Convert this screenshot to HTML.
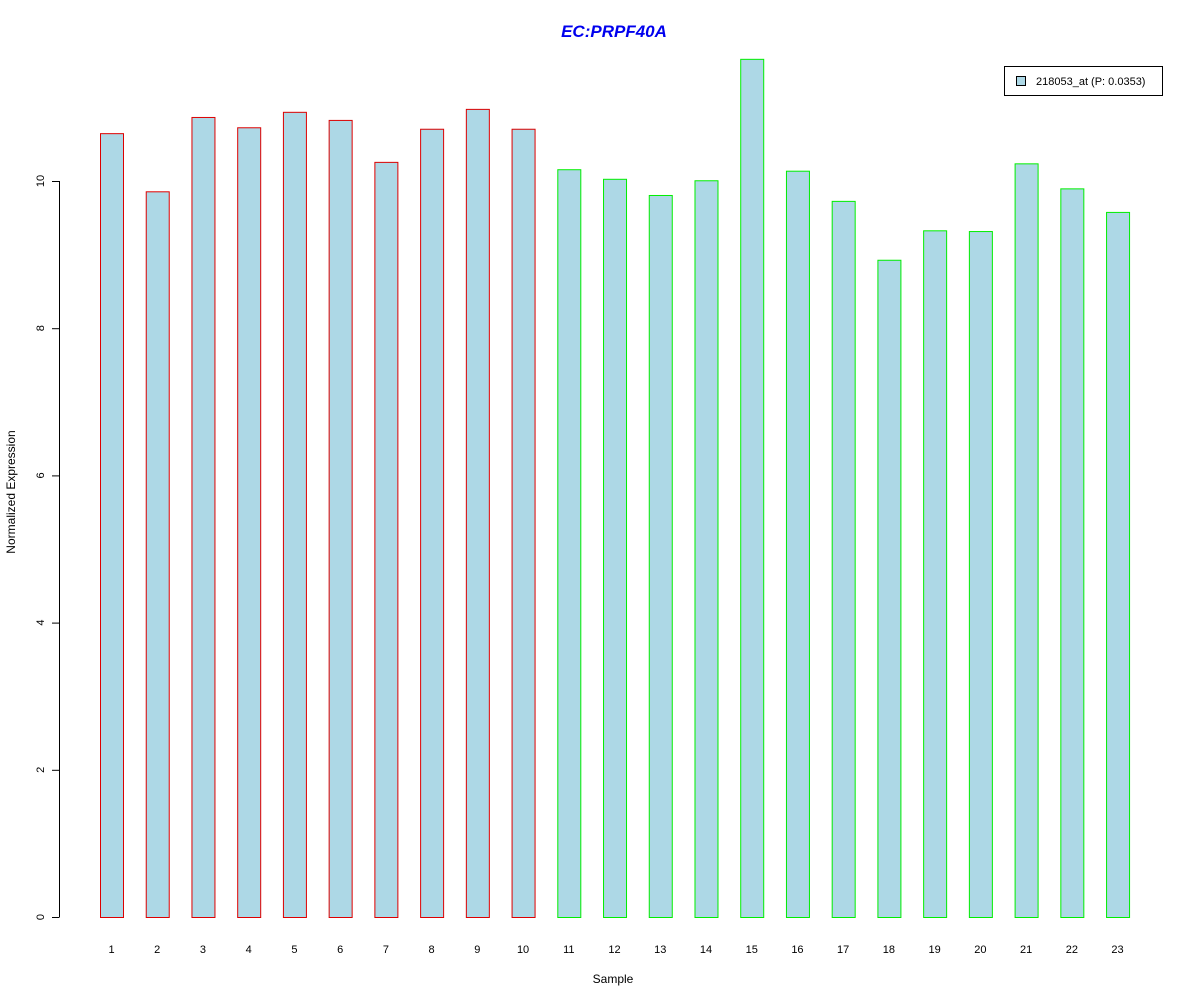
<!DOCTYPE html>
<html><head><meta charset="utf-8"><style>body{margin:0;background:#fff}svg{display:block;font-family:"Liberation Sans",Arial,sans-serif}</style></head>
<body>
<svg id="chart" width="1200" height="1000" xmlns="http://www.w3.org/2000/svg">
<rect width="1200" height="1000" fill="#fff"/>
<text x="614" y="37" text-anchor="middle" font-size="17" font-weight="bold" font-style="italic" fill="#0000ee">EC:PRPF40A</text>
<text x="613" y="983" text-anchor="middle" font-size="12">Sample</text>
<text transform="translate(15,492) rotate(-90)" text-anchor="middle" font-size="12">Normalized Expression</text>
<g id="yaxis"></g>
<g id="bars"></g>
<g id="xlabels"></g>
<g>
<rect x="1004.5" y="66.5" width="158" height="29" fill="#fff" stroke="#000"/>
<rect x="1016.5" y="76.5" width="9" height="9" fill="#add8e6" stroke="#000"/>
<text x="1036" y="85" font-size="11">218053_at (P: 0.0353)</text>
</g>
</svg>
<script>
const categories = ["1","2","3","4","5","6","7","8","9","10","11","12","13","14","15","16","17","18","19","20","21","22","23"];
const values = [10.65,9.86,10.87,10.73,10.94,10.83,10.26,10.71,10.98,10.71,10.16,10.03,9.81,10.01,11.66,10.14,9.73,8.93,9.33,9.32,10.24,9.9,9.58];
const groups = ["a","a","a","a","a","a","a","a","a","a","b","b","b","b","b","b","b","b","b","b","b","b","b"];
const yTicks = [0,2,4,6,8,10];
const NS="http://www.w3.org/2000/svg";
const y = v => 917 - v*73.6;
const x = i => 100 + i*45.73;
function mk(tag, attrs, parent){const e=document.createElementNS(NS,tag);for(const k in attrs)e.setAttribute(k,attrs[k]);parent.appendChild(e);return e;}
const ya=document.getElementById('yaxis');
mk('line',{x1:59.5,x2:59.5,y1:y(0),y2:y(10),stroke:'#000'},ya);
yTicks.forEach(t=>{
  const l=mk('line',{x1:52,x2:59.5,y1:y(t)+0.5,y2:y(t)+0.5,stroke:'#000'},ya);
  
  
  const tx=mk('text',{transform:`translate(44,${y(t)}) rotate(-90)`,'text-anchor':'middle','font-size':'11'},ya);
  
  
  tx.textContent=t;
});
const bg=document.getElementById('bars'), xl=document.getElementById('xlabels');
values.forEach((v,i)=>{
  const r=mk('rect',{x:x(i)+0.5,y:y(v)+0.5,width:23,height:y(0)-y(v),fill:'#add8e6',stroke:groups[i]==='a'?'#dd0000':'#00ee00'},bg);
  
  
  const t=mk('text',{x:x(i)+11.5,y:953,'text-anchor':'middle','font-size':'11'},xl);
  
  
  t.textContent=categories[i];
});
</script>
</body></html>
